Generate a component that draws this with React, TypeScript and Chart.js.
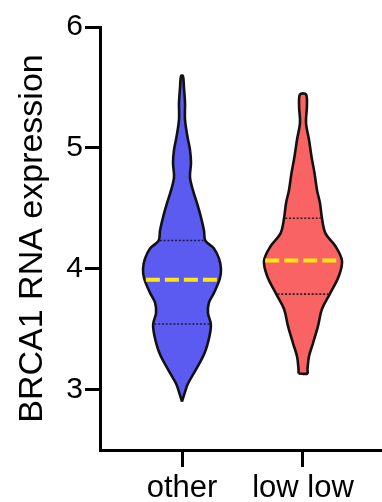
import React, { useEffect, useRef } from 'react';
import { Chart, registerables } from 'chart.js';

Chart.register(...registerables);

// ---------- data ----------
const categories = ['other', 'low low'];
const yTicks = [3, 4, 5, 6];
const yTitle = 'BRCA1 RNA expression';

// violin profiles: expression level (bottom -> top) and relative density (half-width)
const otherLevels = [2.9, 2.967, 3.05, 3.167, 3.3, 3.442, 3.542, 3.633, 3.717, 3.8, 3.917, 4.0, 4.083, 4.167, 4.233, 4.317, 4.425, 4.542, 4.65, 4.758, 4.875, 4.983, 5.092, 5.233, 5.375, 5.5, 5.594];
const otherDensity = [0, 0.064, 0.154, 0.36, 0.577, 0.705, 0.74, 0.667, 0.69, 0.82, 0.97, 1.0, 0.95, 0.82, 0.6, 0.564, 0.487, 0.385, 0.28, 0.205, 0.23, 0.205, 0.14, 0.077, 0.077, 0.05, 0.025];

const lowLowLevels = [3.133, 3.167, 3.275, 3.383, 3.525, 3.667, 3.792, 3.942, 4.067, 4.192, 4.292, 4.417, 4.542, 4.65, 4.792, 4.925, 5.067, 5.208, 5.342, 5.442];
const lowLowDensity = [0.115, 0.115, 0.154, 0.256, 0.385, 0.487, 0.69, 0.923, 1.0, 0.82, 0.577, 0.487, 0.436, 0.36, 0.295, 0.22, 0.154, 0.077, 0.1, 0.077];

const medians = [3.908, 4.067];
const q1s = [3.542, 3.79];
const q3s = [4.233, 4.417];

// ---------- styles ----------
const FONT = "'Liberation Sans', Arial, Helvetica, sans-serif";
const VIOLIN_HALF = 0.322; // x-units of half width at density 1
const INSET = 0.01;
const fills = ['#5B5BF2', '#F96363'];
const OUTLINE = '#111111';
const YELLOW = '#FFE812';
const DOTTED = ['#1a1a40', '#2a1a1a'];

type Pt = { x: number; y: number };

function outline(center: number, levels: number[], density: number[]): Pt[] {
  const left = levels.map((v, i) => ({ x: center - density[i] * VIOLIN_HALF, y: v }));
  const right = levels.map((v, i) => ({ x: center + density[i] * VIOLIN_HALF, y: v })).reverse();
  const pts = [...left, ...right];
  if (density[0] > 0) pts.push({ ...left[0] });
  return pts;
}

function densityAt(levels: number[], density: number[], v: number): number {
  for (let i = 0; i < levels.length - 1; i++) {
    if (v >= levels[i] && v <= levels[i + 1]) {
      const t = (v - levels[i]) / (levels[i + 1] - levels[i]);
      return density[i] + t * (density[i + 1] - density[i]);
    }
  }
  return 0;
}

function hLine(center: number, levels: number[], density: number[], v: number): Pt[] {
  const w = densityAt(levels, density, v) * VIOLIN_HALF - INSET;
  return [{ x: center - w, y: v }, { x: center + w, y: v }];
}

export default function App() {
  const ref = useRef<HTMLCanvasElement | null>(null);

  useEffect(() => {
    if (!ref.current) return;
    const groups = [
      { levels: otherLevels, density: otherDensity },
      { levels: lowLowLevels, density: lowLowDensity },
    ];
    const datasets: any[] = [];
    groups.forEach((g, i) => {
      const c = i + 1;
      datasets.push({
        data: hLine(c, g.levels, g.density, medians[i]),
        showLine: true, borderColor: YELLOW, borderWidth: 4, borderDash: [14, 5],
        borderCapStyle: 'butt', pointRadius: 0, fill: false, tension: 0, order: 1,
      });
      [q1s[i], q3s[i]].forEach((q) => {
        datasets.push({
          data: hLine(c, g.levels, g.density, q),
          showLine: true, borderColor: DOTTED[i], borderWidth: 1.6, borderDash: [2, 1.8],
          pointRadius: 0, fill: false, tension: 0, order: 1,
        });
      });
      datasets.push({
        data: outline(c, g.levels, g.density),
        showLine: true, borderColor: OUTLINE, borderWidth: 2.6, backgroundColor: fills[i],
        fill: 'shape', pointRadius: 0, tension: 0.35, borderJoinStyle: 'round', order: 2,
      });
    });

    const chart = new Chart(ref.current, {
      type: 'scatter',
      data: { datasets },
      options: {
        animation: false,
        responsive: false,
        devicePixelRatio: 1,
        layout: { padding: { top: 27, right: 0, bottom: 0, left: 0 } },
        plugins: { legend: { display: false }, tooltip: { enabled: false } },
        scales: {
          x: {
            type: 'linear',
            min: 0.3223,
            max: 2.6529,
            afterBuildTicks: (s: any) => { s.ticks = categories.map((_, i) => ({ value: i + 1 })); },
            afterFit: (s: any) => { s.height = 52; },
            ticks: {
              callback: (v: any) => categories[Math.round(Number(v)) - 1] ?? '',
              font: { size: 31, family: FONT }, color: '#000', padding: 3,
              maxRotation: 0, autoSkip: false,
            },
            grid: { display: true, drawOnChartArea: false, drawTicks: true, tickLength: 17, color: '#000', lineWidth: 3 },
            border: { display: true, color: '#000', width: 3 },
          },
          y: {
            type: 'linear',
            min: 2.5,
            max: 6,
            afterBuildTicks: (s: any) => { s.ticks = yTicks.map((v) => ({ value: v })); },
            afterFit: (s: any) => { s.width = 100; },
            ticks: { font: { size: 30, family: FONT }, color: '#000', padding: 2 },
            grid: { display: true, drawOnChartArea: false, drawTicks: true, tickLength: 15, color: '#000', lineWidth: 3 },
            border: { display: true, color: '#000', width: 3 },
            title: { display: true, text: yTitle, font: { size: 34, family: FONT }, color: '#000', padding: { top: 12, bottom: 0 } },
          },
        },
      } as any,
    });
    return () => chart.destroy();
  }, []);

  return (
    <div style={{ position: 'absolute', left: 0, top: 0, width: 382, height: 502, background: '#fff' }}>
      <canvas ref={ref} width={382} height={502} style={{ display: 'block' }} />
    </div>
  );
}
